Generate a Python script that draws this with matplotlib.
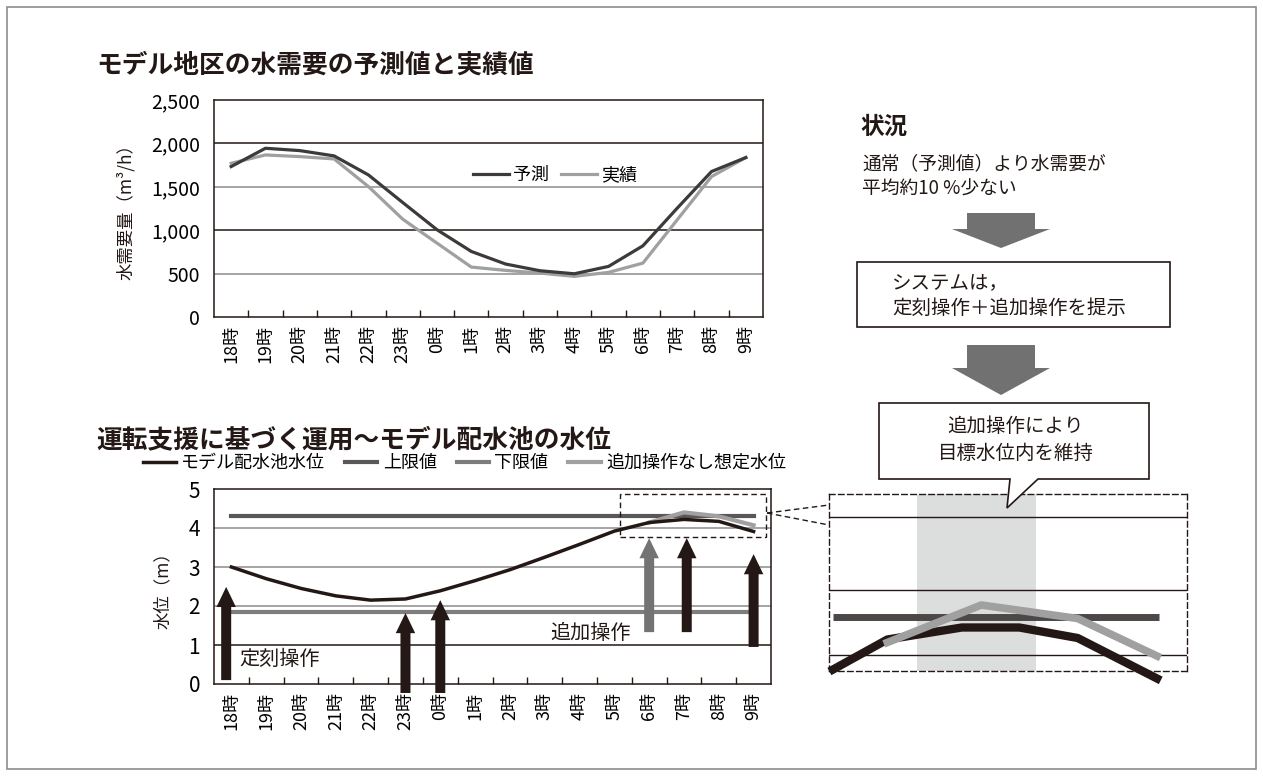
import matplotlib
matplotlib.use('Agg')
import matplotlib.pyplot as plt
from matplotlib.patches import Rectangle, Polygon
from matplotlib.lines import Line2D

plt.rcParams['font.family'] = ['Noto Sans CJK JP', 'DejaVu Sans']

# ---- data ----
hours = ['18時', '19時', '20時', '21時', '22時', '23時', '0時', '1時',
         '2時', '3時', '4時', '5時', '6時', '7時', '8時', '9時']
forecast = [1733, 1944, 1917, 1856, 1637, 1319, 1005, 755,
            610, 533, 498, 583, 820, 1254, 1676, 1837]
actual = [1771, 1867, 1848, 1821, 1503, 1127, 851, 575,
          537, 506, 468, 514, 621, 1120, 1618, 1837]
demand_ticks = [0, 500, 1000, 1500, 2000, 2500]

level = [3.0, 2.7, 2.45, 2.26, 2.15, 2.18, 2.39, 2.65,
         2.93, 3.25, 3.58, 3.92, 4.14, 4.22, 4.17, 3.91]
noadd_idx = [12, 13, 14, 15]
noadd = [4.14, 4.4, 4.3, 4.07]
upper_limit = 4.32
lower_limit = 1.85
level_ticks = [0, 1, 2, 3, 4, 5]

# operation arrows: x index, tail, tip, colour
op_x = [-0.15, 5, 6, 12, 13.08, 15]
op_tail = [0.1, -0.23, -0.23, 1.33, 1.33, 0.95]
op_tip = [2.49, 1.82, 2.15, 3.74, 3.74, 3.33]
op_col = ['#231815', '#231815', '#231815', '#737373', '#231815', '#231815']

# magnified view (hours, m)
inset_x = [5.0, 5.67, 6.59, 7.3, 8.02, 9.0]
inset_level = [3.95, 4.15, 4.23, 4.23, 4.16, 3.89]
inset_nx = [5.67, 6.83, 8.02, 9.0]
inset_noadd = [4.13, 4.38, 4.29, 4.04]
inset_grid = [4.97, 4.48, 4.05]

W, H = 1263, 776
BLK = '#231815'


def fx(x):
    return x / W


def fy(y):
    return 1 - y / H


fig = plt.figure(figsize=(W / 100, H / 100), dpi=100)
fig.add_artist(Rectangle((fx(7), fy(769)), fx(1256) - fx(7), (769 - 7) / H,
                         transform=fig.transFigure, fill=False, ec='#8c8c8c', lw=1.2))

# ---- top chart ----
ax1 = fig.add_axes([fx(214), fy(317), (763 - 214) / W, (317 - 100) / H])
xs = list(range(len(hours)))
gcol = {500: '#8c8c8c', 1000: BLK, 1500: '#8c8c8c', 2000: BLK}
for v, c in gcol.items():
    ax1.axhline(v, color=c, lw=1.1, zorder=1)
ax1.plot(xs, forecast, color='#3e3a39', lw=2.3, label='予測', zorder=3)
ax1.plot(xs, actual, color='#9fa0a0', lw=2.3, label='実績', zorder=2)
ax1.set_xlim(-0.5, 15.5)
ax1.set_ylim(0, 2500)
ax1.set_yticks(demand_ticks)
ax1.set_yticklabels([f'{v:,}' for v in demand_ticks], fontsize=14)
ax1.legend(loc='center left', bbox_to_anchor=((473 - 214) / 549, (317 - 175) / 217),
           ncol=2, frameon=False, fontsize=13, handlelength=2.0, handletextpad=0.2,
           columnspacing=0.7, borderpad=0, borderaxespad=0)
fig.text(fx(126), fy(208), '水需要量（m³/h）', rotation=90, ha='center', va='center',
         fontsize=12.5, color=BLK)
fig.text(fx(96), fy(65), 'モデル地区の水需要の予測値と実績値', fontsize=18.5,
         fontweight='bold', va='center', color=BLK)

# ---- bottom chart ----
ax2 = fig.add_axes([fx(214), fy(684), (771 - 214) / W, (684 - 489) / H])
for v, c in {1: BLK, 2: '#8c8c8c', 3: '#8c8c8c', 4: '#8c8c8c'}.items():
    ax2.axhline(v, color=c, lw=1.1, zorder=1)
ax2.plot([0, 15], [upper_limit, upper_limit], color='#595757', lw=3, label='上限値', zorder=2)
ax2.plot([0, 15], [lower_limit, lower_limit], color='#7d7d7d', lw=3, label='下限値', zorder=2)
ax2.plot(noadd_idx, noadd, color='#a0a0a0', lw=3, label='追加操作なし想定水位', zorder=3)
ax2.plot(xs, level, color=BLK, lw=2.5, label='モデル配水池水位', zorder=4)
ax2.set_xlim(-0.5, 15.5)
ax2.set_ylim(0, 5)
ax2.set_yticks(level_ticks)
ax2.set_yticklabels([str(v) for v in level_ticks], fontsize=15)

for x, t0, t1, c in zip(op_x, op_tail, op_tip, op_col):
    ax2.annotate('', xy=(x, t1), xytext=(x, t0), annotation_clip=False,
                 arrowprops=dict(arrowstyle='simple,tail_width=0.72,head_width=1.4,head_length=1.45',
                                 mutation_scale=10, color=c, shrinkA=0, shrinkB=0, lw=0),
                 zorder=5)
ax2.text(0.22, 0.62, '定刻操作', fontsize=14.5, va='center', color=BLK, zorder=6)
ax2.text(9.15, 1.3, '追加操作', fontsize=14.5, va='center', color=BLK, zorder=6)
ax2.add_patch(Rectangle((11.17, 3.77), 4.19, 1.1, fill=False, ls=(0, (4, 2.5)),
                        lw=1, ec=BLK, clip_on=False, zorder=6))

h, l = ax2.get_legend_handles_labels()
order = [3, 0, 1, 2]
fig.legend([h[i] for i in order], [l[i] for i in order], loc='center left',
           bbox_to_anchor=(fx(143), fy(463)), ncol=4, frameon=False, fontsize=13,
           handlelength=1.8, handletextpad=0.3, columnspacing=1.1,
           borderpad=0, borderaxespad=0)
fig.text(fx(163), fy(586), '水位（m）', rotation=90, ha='center', va='center',
         fontsize=12.5, color=BLK)
fig.text(fx(96), fy(440), '運転支援に基づく運用～モデル配水池の水位', fontsize=18.5,
         fontweight='bold', va='center', color=BLK)

for ax in (ax1, ax2):
    for s in ax.spines.values():
        s.set_color(BLK)
        s.set_linewidth(1.1)
    ax.set_xticks(xs)
    ax.set_xticklabels(hours, rotation=90, fontsize=13, va='top')
    ax.set_xticks([i + 0.5 for i in range(15)], minor=True)
    ax.tick_params(axis='x', which='major', length=0, pad=6)
    ax.tick_params(axis='x', which='minor', direction='in', length=5, width=1, color=BLK)
    ax.tick_params(axis='y', length=0, pad=10)

# ---- magnified view ----
ax3 = fig.add_axes([fx(829), fy(671), (1187 - 829) / W, (671 - 494) / H])
ax3.set_xlim(4.95, 9.37)
ax3.set_ylim(3.94, 5.12)
ax3.axvspan(6.04, 7.51, color='#dcdddd', lw=0, zorder=0)
for v in inset_grid:
    ax3.axhline(v, color=BLK, lw=1, zorder=1)
ax3.plot([5.0, 9.02], [4.3, 4.3], color='#4d4848', lw=5, solid_capstyle='butt', zorder=2)
ax3.plot(inset_x, inset_level, color=BLK, lw=6, clip_on=False, zorder=3)
ax3.plot(inset_nx, inset_noadd, color='#a0a0a0', lw=5.5, clip_on=False, zorder=4)
ax3.set_xticks([])
ax3.set_yticks([])
for s in ax3.spines.values():
    s.set_linestyle((0, (4, 2.5)))
    s.set_linewidth(1)
    s.set_color(BLK)

fig.add_artist(Line2D([fx(767), fx(829)], [fy(513), fy(505)], transform=fig.transFigure,
                      color=BLK, lw=1, ls=(0, (4, 2.5))))
fig.add_artist(Line2D([fx(767), fx(829)], [fy(513), fy(525)], transform=fig.transFigure,
                      color=BLK, lw=1, ls=(0, (4, 2.5))))

# ---- flow on the right ----
fig.text(fx(860), fy(127), '状況', fontsize=17, fontweight='bold', va='center', color=BLK)
fig.text(fx(862), fy(164), '通常（予測値）より水需要が', fontsize=13.5, va='center', color=BLK)
fig.text(fx(862), fy(189), '平均約10 %少ない', fontsize=13.5, va='center', color=BLK)


def block_arrow(cx, y0, y1, y2, sw=34, hw=49):
    pts = [(cx - sw, y0), (cx + sw, y0), (cx + sw, y1), (cx + hw, y1),
           (cx, y2), (cx - hw, y1), (cx - sw, y1)]
    fig.add_artist(Polygon([(fx(a), fy(b)) for a, b in pts], closed=True,
                           transform=fig.transFigure, fc='#727171', ec='none'))


block_arrow(1001, 213, 229, 248)
block_arrow(1001, 345, 368, 395)

fig.add_artist(Rectangle((fx(857), fy(327)), (1170 - 857) / W, (327 - 262) / H,
                         transform=fig.transFigure, fill=False, ec=BLK, lw=1.2))
fig.text(fx(892), fy(284), 'システムは，', fontsize=14, va='center', color=BLK)
fig.text(fx(892), fy(308), '定刻操作＋追加操作を提示', fontsize=14, va='center', color=BLK)

callout = [(879, 403), (1149, 403), (1149, 479), (1038, 479), (1007, 508),
           (1010, 479), (879, 479)]
fig.add_artist(Polygon([(fx(a), fy(b)) for a, b in callout], closed=True,
                       transform=fig.transFigure, fc='white', ec=BLK, lw=1.2, zorder=5))
fig.text(fx(1016), fy(426), '追加操作により', fontsize=14, ha='center', va='center',
         color=BLK, zorder=6)
fig.text(fx(1016), fy(453), '目標水位内を維持', fontsize=14, ha='center', va='center',
         color=BLK, zorder=6)

fig.savefig('out.png', dpi=100)
